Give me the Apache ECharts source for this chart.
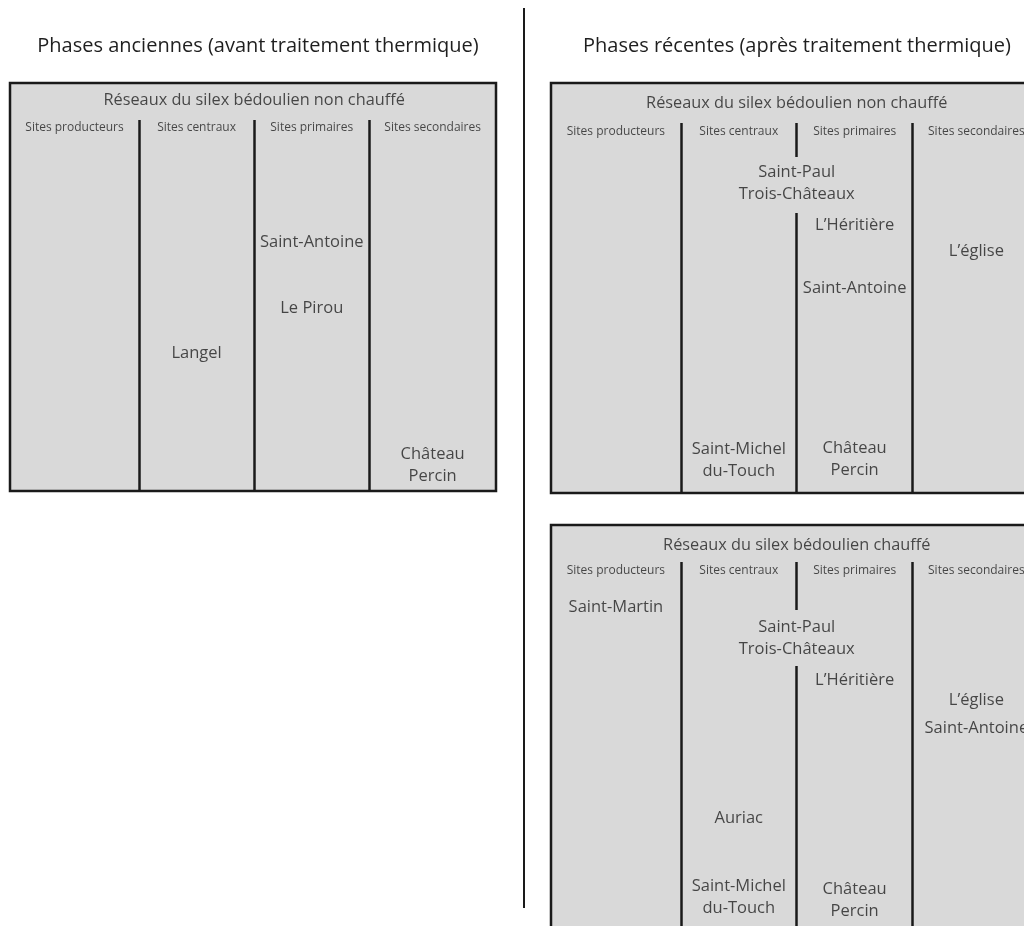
<!DOCTYPE html>
<html><head><meta charset="utf-8">
<script src="https://cdn.jsdelivr.net/npm/echarts@6/dist/echarts.min.js"></script>
<style>html,body{margin:0;padding:0;background:#fff}#c{width:1024px;height:926px}</style>
</head><body><div id="c"></div>
<script>
// ---- data ----
const phaseTitles = ['Phases anciennes (avant traitement thermique)', 'Phases récentes (après traitement thermique)'];
const networkTitles = ['Réseaux du silex bédoulien non chauffé', 'Réseaux du silex bédoulien non chauffé', 'Réseaux du silex bédoulien chauffé'];
const columnNames = ['Sites producteurs', 'Sites centraux', 'Sites primaires', 'Sites secondaires'];
// sites: [name, column index (or [a,b] when straddling two columns), vertical rank from panel top]
const sitesOldUnheated = [
  ['Saint-Antoine', 2, 159], ['Le Pirou', 2, 225], ['Langel', 1, 270], ['Château\nPercin', 3, 382]
];
const sitesRecentUnheated = [
  ['Saint-Paul\nTrois-Châteaux', [1, 2], 100], ['L’Héritière', 2, 142], ['L’église', 3, 168],
  ['Saint-Antoine', 2, 205], ['Saint-Michel\ndu-Touch', 1, 377], ['Château\nPercin', 2, 376]
];
const sitesRecentHeated = [
  ['Saint-Martin', 0, 82], ['Saint-Paul\nTrois-Châteaux', [1, 2], 113], ['L’Héritière', 2, 155],
  ['L’église', 3, 175], ['Saint-Antoine', 3, 203], ['Auriac', 1, 293],
  ['Saint-Michel\ndu-Touch', 1, 372], ['Château\nPercin', 2, 375]
];
// column dividers: [boundary, from, to]
const dividersOldUnheated = [[1, 37, 408], [2, 37, 408], [3, 37, 408]];
const dividersRecentUnheated = [[1, 40, 410], [2, 40, 74], [2, 130, 410], [3, 40, 410]];
const dividersRecentHeated = [[1, 37, 410], [2, 37, 85], [2, 141, 410], [3, 37, 410]];
const networkTitleRank = [17, 20, 20];
const columnTitleRank = [45, 49, 46];

// ---- layout ----
const X_MIN = -0.12, X_BOX = 4.1;            // full extent of each panel box (column units)
const PX_PER_UNIT = 115.9, PX_PER_RANK = 1;  // common scale
const W = 1024, H = 926;
const boxes = [
  { left: 10, top: 83, height: 408 },
  { left: 551, top: 83, height: 410 },
  { left: 551, top: 525, height: 410 }
];
// grids are the visible part of each box (the right panels run past the page edge)
const grids = boxes.map((b, i) => {
  const w = i === 0 ? 486 : Math.min(489, W - b.left);
  const h = Math.min(b.height, H - b.top);
  return { left: b.left, top: b.top, width: w, height: h, xMax: X_MIN + w / (i === 0 ? 486 / (X_BOX - X_MIN) : PX_PER_UNIT), yMax: h, boxH: b.height };
});
const panelSites = [sitesOldUnheated, sitesRecentUnheated, sitesRecentHeated];
const panelDividers = [dividersOldUnheated, dividersRecentUnheated, dividersRecentHeated];
const bounds = [X_MIN, 1, 2, 3, X_BOX];
const colCenter = c => Array.isArray(c) ? c[1] : (bounds[c] + bounds[c + 1]) / 2;
const TEXT = '#1f1f1f', LINE = '#1a1a1a', FONT = 'Open Sans';

const option = {
  backgroundColor: '#ffffff',
  animation: false,
  title: phaseTitles.map((t, i) => ({
    text: t, left: i === 0 ? 253 : 792, top: 31, textAlign: 'center',
    textStyle: { fontFamily: FONT, fontSize: 20, fontWeight: 'normal', color: TEXT }
  })),
  graphic: [{ type: 'line', shape: { x1: 524, y1: 8, x2: 524, y2: 908 }, style: { stroke: LINE, lineWidth: 2 } }],
  grid: grids.map(g => ({ show: false, left: g.left, top: g.top, width: g.width, height: g.height })),
  xAxis: grids.map((g, i) => ({ type: 'value', gridIndex: i, min: X_MIN, max: g.xMax, show: false, splitLine: { show: false } })),
  yAxis: grids.map((g, i) => ({ type: 'value', gridIndex: i, min: 0, max: g.yMax, inverse: true, show: false, splitLine: { show: false } })),
  series: []
};

grids.forEach((g, i) => {
  // panel box
  option.series.push({
    type: 'custom', xAxisIndex: i, yAxisIndex: i, silent: true, z: 1, clip: false,
    data: [[X_MIN, 0, X_BOX, g.boxH]],
    renderItem: (params, api) => {
      const p0 = api.coord([api.value(0), api.value(1)]);
      const p1 = api.coord([api.value(2), api.value(3)]);
      return { type: 'rect', shape: { x: p0[0], y: p0[1], width: p1[0] - p0[0], height: p1[1] - p0[1] },
        style: { fill: '#d9d9d9', stroke: LINE, lineWidth: 2.5 } };
    }
  });
  // column dividers
  option.series.push({
    type: 'lines', coordinateSystem: 'cartesian2d', xAxisIndex: i, yAxisIndex: i, silent: true, z: 2,
    lineStyle: { color: LINE, width: 2.5, opacity: 1 },
    data: panelDividers[i].map(d => ({ coords: [[d[0], d[1]], [d[0], d[2]]] }))
  });
  // network title
  option.series.push({
    type: 'scatter', xAxisIndex: i, yAxisIndex: i, symbolSize: 0, silent: true, z: 3,
    label: { show: true, position: 'inside', formatter: p => p.data.name, fontFamily: FONT, fontSize: 16.3, color: TEXT },
    data: [{ name: networkTitles[i], value: [2, networkTitleRank[i]] }]
  });
  // column titles
  option.series.push({
    type: 'scatter', xAxisIndex: i, yAxisIndex: i, symbolSize: 0, silent: true, z: 3,
    label: { show: true, position: 'inside', formatter: p => p.data.name, fontFamily: FONT, fontSize: 12, color: TEXT },
    data: columnNames.map((n, c) => ({ name: n, value: [colCenter(c), columnTitleRank[i]] }))
  });
  // sites
  option.series.push({
    type: 'scatter', xAxisIndex: i, yAxisIndex: i, symbolSize: 0, silent: true, z: 3,
    label: { show: true, position: 'inside', formatter: p => p.data.name, fontFamily: FONT, fontSize: 16.5, lineHeight: 22, color: TEXT },
    data: panelSites[i].map(s => ({ name: s[0], value: [colCenter(s[1]), s[2]] }))
  });
});

const chart = echarts.init(document.getElementById('c'), null, { renderer: 'canvas' });
chart.setOption(option);
</script></body></html>
